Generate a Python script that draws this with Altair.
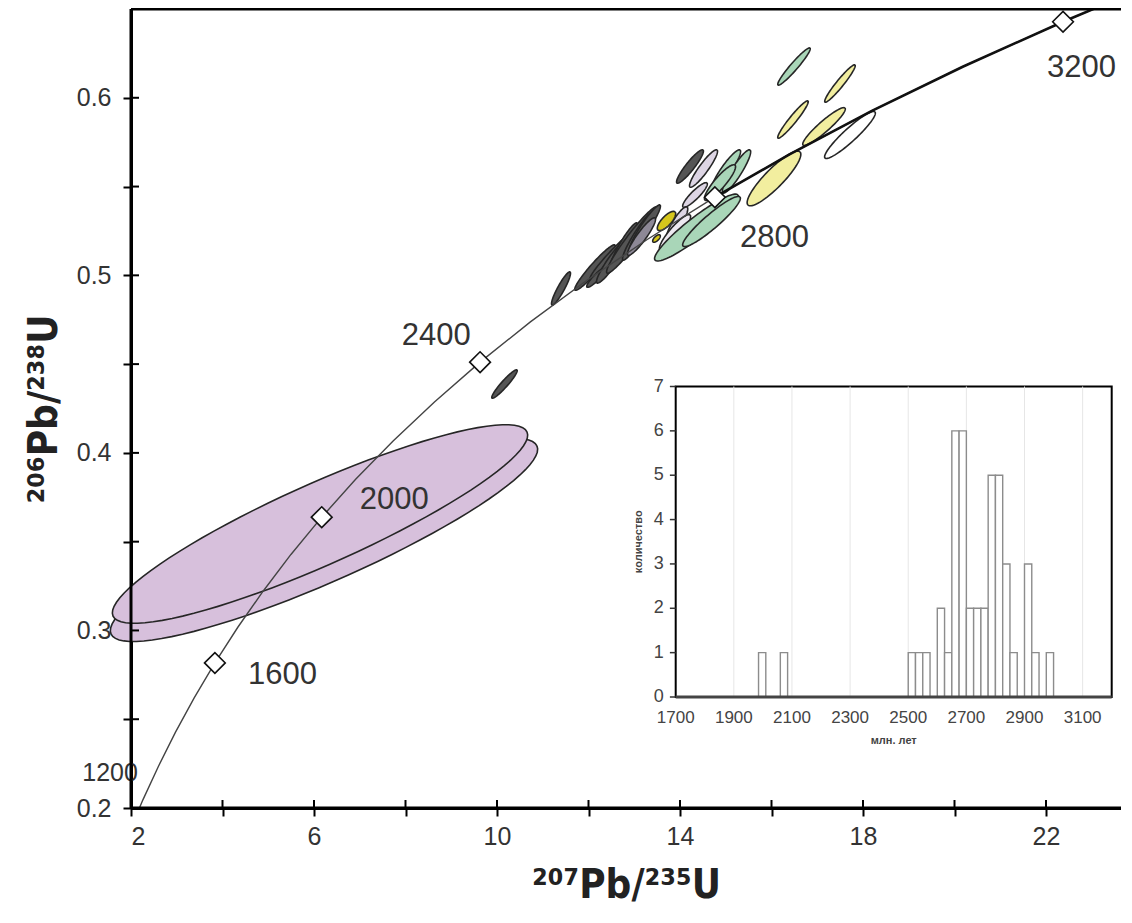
import altair as alt
import numpy as np
import pandas as pd

# ---------------- data ----------------
# concordia curve (age in Ma, 207Pb/235U, 206Pb/238U)
conc_age = [1100, 1200, 1300, 1400, 1500, 1600, 1700, 1800, 1900, 2000, 2100, 2200,
            2300, 2400, 2500, 2600, 2700, 2800, 2900, 3000, 3100, 3200, 3250]
conc_x = [1.955, 2.260, 2.598, 2.970, 3.381, 3.834, 4.335, 4.887, 5.496, 6.169, 6.910, 7.729,
          8.633, 9.630, 10.730, 11.944, 13.283, 14.762, 16.393, 18.193, 20.180, 22.372, 23.551]
conc_y = [0.1861, 0.2046, 0.2234, 0.2426, 0.2620, 0.2817, 0.3018, 0.3221, 0.3428, 0.3638, 0.3851, 0.4067,
          0.4287, 0.4511, 0.4738, 0.4968, 0.5202, 0.5440, 0.5681, 0.5926, 0.6175, 0.6428, 0.6556]
marker_ages = [1600, 2000, 2400, 2800, 3200]

age_label_text = ["1600", "2000", "2400", "2800", "3200"]
age_label_x = [4.56, 7.00, 7.92, 15.31, 22.02]
age_label_y = [0.275, 0.3735, 0.466, 0.521, 0.617]
low_label_text = ["1200"]
low_label_x = [2.15]
low_label_y = [0.2195]

# error ellipses: major-axis end points (data units), minor/major ratio, colour group
ell_group = ["purple", "purple",
             "dark", "dark", "dark", "dark", "dark", "dark", "dark", "dark", "dark", "dark", "dark",
             "mid", "lav", "lav", "lav", "lav2", "byellow", "byellow",
             "green", "green", "green", "green", "green",
             "yellow", "green", "yellow", "yellow", "yellow", "white"]
ell_x1 = [1.563, 1.607,
          9.891, 11.202, 11.705, 12.033, 11.967, 12.186, 12.470, 12.404, 12.754, 12.907, 13.934,
          12.864, 14.219, 14.066, 13.716, 13.563, 13.519, 13.410,
          14.700, 14.940, 14.547, 13.454, 14.066,
          15.486, 16.142, 17.169, 16.142, 16.689, 17.169]
ell_y1 = [0.2980, 0.3081,
          0.4309, 0.4833, 0.4917, 0.4974, 0.4934, 0.4957, 0.5030, 0.5013, 0.5086, 0.5143, 0.5520,
          0.5114, 0.5497, 0.5385, 0.5199, 0.5143, 0.5255, 0.5188,
          0.5481, 0.5464, 0.5424, 0.5086, 0.5165,
          0.5396, 0.6072, 0.5976, 0.5773, 0.5734, 0.5661]
ell_x2 = [10.874, 10.656,
          10.437, 11.596, 12.579, 13.126, 12.404, 12.842, 13.060, 13.497, 13.410, 13.563, 14.503,
          13.454, 14.809, 14.590, 14.153, 14.219, 13.891, 13.563,
          15.312, 15.530, 15.202, 15.268, 15.312,
          16.623, 16.842, 17.825, 16.798, 17.607, 18.262]
ell_y2 = [0.4039, 0.4118,
          0.4467, 0.5019, 0.5171, 0.5267, 0.5047, 0.5199, 0.5295, 0.5385, 0.5357, 0.5396, 0.5706,
          0.5323, 0.5706, 0.5520, 0.5385, 0.5340, 0.5357, 0.5227,
          0.5706, 0.5706, 0.5621, 0.5452, 0.5441,
          0.5695, 0.6280, 0.6185, 0.5982, 0.5942, 0.5920]
ell_ratio = [0.18, 0.18,
             0.17, 0.18, 0.15, 0.14, 0.22, 0.18, 0.17, 0.14, 0.16, 0.16, 0.20,
             0.20, 0.20, 0.24, 0.24, 0.24, 0.38, 0.45,
             0.20, 0.20, 0.24, 0.19, 0.19,
             0.25, 0.15, 0.15, 0.15, 0.19, 0.19]

# inset histogram (Ma bins, counts)
hist_start = [1985, 2060, 2500, 2525, 2550, 2600, 2625, 2650, 2675, 2700, 2725, 2750,
              2775, 2800, 2825, 2850, 2900, 2925, 2975]
hist_end = [2010, 2085, 2525, 2550, 2575, 2625, 2650, 2675, 2700, 2725, 2750, 2775,
            2800, 2825, 2850, 2875, 2925, 2950, 3000]
hist_count = [1, 1, 1, 1, 1, 2, 1, 6, 6, 2, 2, 2, 5, 5, 3, 1, 3, 1, 1]
hist_xticks = [1700, 1900, 2100, 2300, 2500, 2700, 2900, 3100]
hist_grid = [1900, 2100, 2300, 2500, 2700, 2900, 3100]
hist_yticks = [0, 1, 2, 3, 4, 5, 6, 7]

x_ticks = [2, 4, 6, 8, 10, 12, 14, 16, 18, 20, 22]
y_ticks = [0.2, 0.25, 0.3, 0.35, 0.4, 0.45, 0.5, 0.55, 0.6]

# ---------------- layout ----------------
W, H = 990, 799
XDOM = [2, 2 + W / 45.75]
YDOM = [0.2, 0.65]
FONT = "Liberation Sans"
TFONT = "DejaVu Sans Condensed, DejaVu Sans"

colors = {"purple": "#d7c0dc", "dark": "#555555", "mid": "#8d8896", "lav": "#ddd5e4",
          "lav2": "#eee9f1", "byellow": "#d6c61c", "green": "#a9d6b8",
          "yellow": "#f2ee9f", "white": "#ffffff"}

xs = alt.Scale(domain=XDOM, nice=False, zero=False)
ys = alt.Scale(domain=YDOM, nice=False, zero=False)
x_axis = alt.Axis(values=x_ticks, labelExpr="datum.value % 4 == 2 ? datum.label : ''",
                  tickSize=8, tickWidth=2, tickColor="black", domainColor="black",
                  domainWidth=3, grid=False, labelFont=FONT, labelFontSize=25,
                  labelColor="#333", labelPadding=8, title="²⁰⁷Pb/²³⁵U",
                  titleFont=TFONT, titleFontSize=40, titleFontWeight="bold",
                  titleColor="#222", titlePadding=16)
y_axis = alt.Axis(values=y_ticks,
                  labelExpr="round(datum.value*100) % 10 == 0 ? format(datum.value, '.1f') : ''",
                  tickSize=8, tickWidth=2, tickColor="black", domainColor="black",
                  domainWidth=3, grid=False, labelFont=FONT, labelFontSize=25,
                  labelColor="#333", labelPadding=12, title="²⁰⁶Pb/²³⁸U",
                  titleFont=TFONT, titleFontSize=40, titleFontWeight="bold",
                  titleColor="#222", titlePadding=12)


def X(f):
    return alt.X(f, type="quantitative", scale=xs, axis=x_axis)


def Y(f):
    return alt.Y(f, type="quantitative", scale=ys, axis=y_axis)


# ellipse outlines
kx = W / (XDOM[1] - XDOM[0])
ky = H / (YDOM[1] - YDOM[0])
tt = np.linspace(0, 2 * np.pi, 91)
rows = []
for i in range(len(ell_group)):
    cx, cy = (ell_x1[i] + ell_x2[i]) / 2, (ell_y1[i] + ell_y2[i]) / 2
    ax, ay = (ell_x2[i] - ell_x1[i]) / 2, (ell_y2[i] - ell_y1[i]) / 2
    w = ell_ratio[i]
    bx, by = -ay * ky * w / kx, ax * kx * w / ky
    for k, t in enumerate(tt):
        rows.append({"id": i, "k": k,
                     "x": cx + np.cos(t) * ax + np.sin(t) * bx,
                     "y": cy + np.cos(t) * ay + np.sin(t) * by})
ell_df = pd.DataFrame(rows)

ellipse_layers = []
for i, g in enumerate(ell_group):
    ellipse_layers.append(
        alt.Chart(ell_df).transform_filter(alt.datum.id == i)
        .mark_line(fill=colors[g], stroke="#262626", strokeWidth=1.6, clip=False)
        .encode(x=X("x"), y=Y("y"), order=alt.Order("k:Q"))
    )

conc_df = pd.DataFrame({"age": conc_age, "x": conc_x, "y": conc_y})
conc_thin = alt.Chart(conc_df).mark_line(stroke="#444", strokeWidth=1.4, clip=True).encode(
    x=X("x"), y=Y("y"), order=alt.Order("age:Q"))
conc_thick = alt.Chart(conc_df).transform_filter(alt.datum.age >= 2800).mark_line(
    stroke="#111", strokeWidth=2.6, clip=True).encode(x=X("x"), y=Y("y"), order=alt.Order("age:Q"))
markers = alt.Chart(conc_df).transform_filter(
    alt.FieldOneOfPredicate(field="age", oneOf=marker_ages)).mark_point(
    shape="diamond", size=430, filled=True, fill="white", stroke="#111",
    strokeWidth=1.6, opacity=1).encode(x=X("x"), y=Y("y"))

lab_df = pd.DataFrame({"t": age_label_text, "x": age_label_x, "y": age_label_y})
labels = alt.Chart(lab_df).mark_text(align="left", baseline="middle", font=FONT,
                                     fontSize=31, color="#333").encode(
    x=X("x"), y=Y("y"), text="t:N")
low_df = pd.DataFrame({"t": low_label_text, "x": low_label_x, "y": low_label_y})
low_label = alt.Chart(low_df).mark_text(align="right", baseline="middle", font=FONT,
                                        fontSize=25, color="#333").encode(
    x=X("x"), y=Y("y"), text="t:N")

one = pd.DataFrame({"a": [0]})
xt_df = pd.DataFrame({"v": x_ticks})
yt_df = pd.DataFrame({"v": y_ticks})
in_xticks = alt.Chart(xt_df).mark_rule(stroke="black", strokeWidth=2).encode(
    x=X("v"), y=alt.value(H), y2=alt.value(H - 8))
in_yticks = alt.Chart(yt_df).mark_rule(stroke="black", strokeWidth=2).encode(
    y=Y("v"), x=alt.value(0), x2=alt.value(8))
left_line = alt.Chart(one).mark_rule(stroke="black", strokeWidth=3).encode(
    x=alt.value(0), y=alt.value(0), y2=alt.value(H))
bottom_line = alt.Chart(one).mark_rule(stroke="black", strokeWidth=3).encode(
    x=alt.value(0), x2=alt.value(W), y=alt.value(H))
top_line = alt.Chart(one).mark_rule(stroke="black", strokeWidth=3).encode(
    x=alt.value(0), x2=alt.value(W), y=alt.value(0))

main = alt.layer(*ellipse_layers, conc_thin, conc_thick, markers, labels, low_label,
                 in_xticks, in_yticks, left_line, bottom_line, top_line)

# ---------------- inset histogram ----------------
hx = alt.Scale(domain=[1700, 3200], range=[544.7, 980.7], nice=False, zero=False)
hy = alt.Scale(domain=[0, 7], range=[688, 377.5], nice=False, zero=False)


def HX(f):
    return alt.X(f, type="quantitative", scale=hx, axis=None)


def HY(f):
    return alt.Y(f, type="quantitative", scale=hy, axis=None)


frame_df = pd.DataFrame({"x0": [1700], "x1": [3200], "y0": [0], "y1": [7]})
frame = alt.Chart(frame_df).mark_rect(fill="white", stroke="black", strokeWidth=2).encode(
    x=HX("x0"), x2="x1", y=HY("y0"), y2="y1")
grid_df = pd.DataFrame({"v": hist_grid, "y0": 0, "y1": 7})
grid = alt.Chart(grid_df).mark_rule(stroke="#e6e6e6", strokeWidth=1).encode(
    x=HX("v"), y=HY("y0"), y2="y1")
bars_df = pd.DataFrame({"s": hist_start, "e": hist_end, "c": hist_count, "z": 0})
bars = alt.Chart(bars_df).mark_rect(fill="white", stroke="#8c8c8c", strokeWidth=1.4).encode(
    x=HX("s"), x2="e", y=HY("c"), y2="z")
base_df = pd.DataFrame({"x0": [1700], "x1": [3200], "y0": [0]})
baseline = alt.Chart(base_df).mark_rule(stroke="#444", strokeWidth=3).encode(
    x=HX("x0"), x2="x1", y=HY("y0"))
hyt_df = pd.DataFrame({"v": hist_yticks, "a": 1680, "b": 1700})
hyticks = alt.Chart(hyt_df).mark_rule(stroke="#333", strokeWidth=1.5).encode(
    x=HX("a"), x2="b", y=HY("v"))
hylab = alt.Chart(hyt_df).mark_text(align="right", baseline="middle", dx=-12, font=FONT,
                                    fontSize=18, color="#444").encode(
    x=HX("b"), y=HY("v"), text="v:Q")
hxt_df = pd.DataFrame({"v": hist_xticks, "z": 0})
hxlab = alt.Chart(hxt_df).mark_text(align="center", baseline="top", dy=13, font=FONT,
                                    fontSize=17, color="#444").encode(
    x=HX("v"), y=HY("z"), text="v:Q")
htitle_df = pd.DataFrame({"t": ["млн. лет"], "x": [2450], "y": [0]})
hxtitle = alt.Chart(htitle_df).mark_text(align="center", baseline="middle", dy=44, font=FONT,
                                         fontSize=11, fontWeight="bold", color="#444").encode(
    x=HX("x"), y=HY("y"), text="t:N")
hytitle_df = pd.DataFrame({"t": ["количество"], "x": [1700], "y": [3.5]})
hytitle = alt.Chart(hytitle_df).mark_text(align="center", baseline="middle", dy=-37, angle=270,
                                          font=FONT, fontSize=11, fontWeight="bold",
                                          color="#444").encode(
    x=HX("x"), y=HY("y"), text="t:N")

hist = alt.layer(frame, grid, bars, baseline, hyticks, hylab, hxlab, hxtitle, hytitle)

chart = alt.layer(main, hist).resolve_scale(x="independent", y="independent").properties(
    width=W, height=H,
    autosize=alt.AutoSizeParams(type="none"),
    padding={"left": 123, "top": 1, "right": 0, "bottom": 106},
).configure_view(stroke=None)

chart.save("out.html", embed_options={"renderer": "svg", "actions": False})
